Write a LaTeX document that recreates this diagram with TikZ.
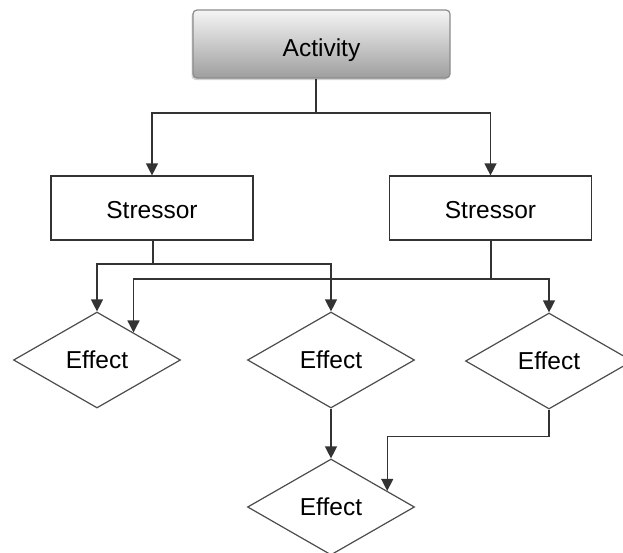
\documentclass[tikz,border=0pt]{standalone}
\usepackage{fontspec}
\setmainfont{Liberation Sans}
\usetikzlibrary{arrows.meta,shapes.geometric,shadows,calc}
\tikzset{
  txt/.style={font=\fontsize{24.5}{29}\selectfont, text=black},
  actbox/.style={txt, draw=black!45, line width=1.2pt, rounded corners=4pt,
    top color=black!4, bottom color=black!38,
    minimum width=257pt, minimum height=68pt, inner sep=0pt,
    drop shadow={shadow xshift=-1.5pt, shadow yshift=-2pt, opacity=0.35}},
  stbox/.style={txt, draw=black!80, line width=1.2pt, fill=white,
    minimum width=202pt, minimum height=64pt, inner sep=0pt},
  effbox/.style={txt, diamond, draw=black!70, line width=1.2pt, fill=white,
    minimum width=167pt, minimum height=96pt, inner sep=0pt},
  conn/.style={draw=black!80, line width=1.3pt},
  arr/.style={conn, -{Triangle[width=12pt,length=12pt]}},
}
\begin{document}
\begin{tikzpicture}[x=1pt,y=-1pt]
\useasboundingbox (0,0) rectangle (623,552);
\node[actbox] (act) at (321.5,44) {\raisebox{-12.8pt}[0pt][0pt]{Activity}};
\node[stbox] (s1) at (152,208) {\raisebox{-10.8pt}[0pt][0pt]{Stressor}};
\node[stbox] (s2) at (490.5,208) {\raisebox{-10.8pt}[0pt][0pt]{Stressor}};
\node[effbox] (e1) at (97,360) {Effect};
\node[effbox] (e2) at (331,360) {Effect};
\node[effbox] (e3) at (549,361) {Effect};
\node[effbox] (e4) at (331,507) {Effect};
% activity to stressors
\coordinate (j0) at (316,113);
\draw[conn] (act.south -| j0) -- (j0);
\draw[arr] (j0) -| (s1.north);
\draw[arr] (j0) -| (s2.north);
% left stressor
\coordinate (j1) at (153,264);
\draw[conn] (s1.south -| j1) -- (j1);
\draw[arr] (j1) -| (e1.north);
\draw[arr] (j1) -| (e2.north);
% right stressor
\coordinate (j2) at (491,279);
\draw[conn] (s2.south -| j2) -- (j2);
\draw[arr] (j2) -| (e1.37);
\draw[arr] (j2) -| (e3.north);
% effects to bottom effect
\draw[arr] (e2.south) -- (e4.north);
\draw[arr] (e3.south) -- ++(0,27) -| (e4.16);
\end{tikzpicture}
\end{document}
